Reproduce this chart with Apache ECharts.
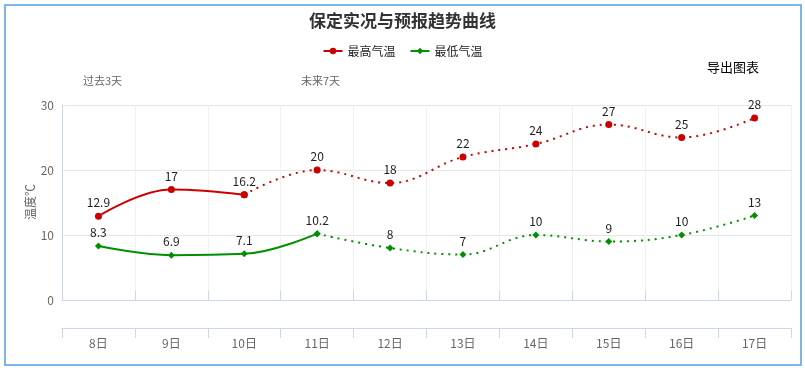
<!DOCTYPE html>
<html>
<head>
<meta charset="utf-8">
<script src="https://cdn.jsdelivr.net/npm/echarts@6/dist/echarts.min.js"></script>
<style>
html,body{margin:0;padding:0;background:#fff;}
#chart{width:805px;height:368px;}
</style>
</head>
<body>
<div id="chart"></div>
<script>
var days = ['8日','9日','10日','11日','12日','13日','14日','15日','16日','17日'];
var highObs = [12.9, 17, 16.2];
var highFc = [20, 18, 22, 24, 27, 25, 28];
var lowObs = [8.3, 6.9, 7.1, 10.2];
var lowFc = [8, 7, 10, 9, 10, 13];
var yTicks = [0, 10, 20, 30];

var FONT = '"Noto Sans CJK SC", "Noto Sans", sans-serif';
var RED = '#cc0000', GREEN = '#009000';

function pad(n){ var a=[]; for(var i=0;i<n;i++) a.push('-'); return a; }
var highObsData = highObs.concat(pad(days.length - highObs.length));
var lowObsData = lowObs.concat(pad(days.length - lowObs.length));
var highFcData = pad(highObs.length - 1)
  .concat([{value: highObs[highObs.length-1], label:{show:false}}])
  .concat(highFc);
var lowFcData = pad(lowObs.length - 1)
  .concat([{value: lowObs[lowObs.length-1], label:{show:false}}])
  .concat(lowFc);

var labelCfg = {show:true, position:'top', distance:4, color:'#222', fontSize:12, fontFamily:FONT};

var chart = echarts.init(document.getElementById('chart'), null, {renderer:'canvas'});
chart.setOption({
  backgroundColor:'#fff',
  animation:false,
  title:{text:'保定实况与预报趋势曲线', left:'center', top:7,
    textStyle:{fontSize:17, fontWeight:'bold', color:'#333', fontFamily:FONT}},
  legend:{top:40, left:'center', itemWidth:19, itemHeight:8, itemGap:14,
    textStyle:{fontSize:12, color:'#222', fontFamily:FONT},
    data:['最高气温','最低气温']},
  grid:{left:62, right:14, top:105, bottom:68},
  xAxis:[
    {type:'category', position:'top', data:days, boundaryGap:true,
     axisLine:{show:true, lineStyle:{color:'#ccd6eb'}},
     axisTick:{show:true, length:9, lineStyle:{color:'#ccd6eb'}},
     axisLabel:{show:false},
     splitLine:{show:true, lineStyle:{color:'#f0f0f0'}}},
    {type:'category', position:'bottom', offset:28, data:days, boundaryGap:true,
     axisLine:{show:true, lineStyle:{color:'#ccd6eb'}},
     axisTick:{show:true, length:10, lineStyle:{color:'#ccd6eb'}},
     axisLabel:{color:'#666', fontSize:12, margin:9, fontFamily:FONT},
     splitLine:{show:false}}
  ],
  yAxis:{type:'value', min:yTicks[0], max:yTicks[yTicks.length-1], interval:10,
    axisLine:{show:true, lineStyle:{color:'#ccd6eb'}},
    axisTick:{show:false},
    axisLabel:{color:'#666', fontSize:12, margin:8, fontFamily:FONT},
    splitLine:{show:true, lineStyle:{color:'#e6e6e6'}}},
  series:[
    {name:'最高气温', type:'line', xAxisIndex:0, data:highObsData, smooth:0.4,
     symbol:'circle', symbolSize:7, itemStyle:{color:RED},
     lineStyle:{color:RED, width:2}, label:labelCfg},
    {name:'最高气温', type:'line', xAxisIndex:0, data:highFcData, smooth:0.4,
     symbol:'circle', symbolSize:7, itemStyle:{color:RED},
     lineStyle:{color:RED, width:2, type:[2,5]}, label:labelCfg},
    {name:'最低气温', type:'line', xAxisIndex:0, data:lowObsData, smooth:0.4,
     symbol:'diamond', symbolSize:7, itemStyle:{color:GREEN},
     lineStyle:{color:GREEN, width:2}, label:labelCfg},
    {name:'最低气温', type:'line', xAxisIndex:0, data:lowFcData, smooth:0.4,
     symbol:'diamond', symbolSize:7, itemStyle:{color:GREEN},
     lineStyle:{color:GREEN, width:2, type:[2,5]}, label:labelCfg}
  ],
  graphic:[
    {type:'rect', shape:{x:5, y:5, width:796, height:360}, silent:true,
     style:{fill:'none', stroke:'#7cb5ec', lineWidth:2}},
    {type:'text', x:30, y:202, rotation:Math.PI/2,
     style:{text:'温度℃', fontSize:12, fill:'#666', fontFamily:FONT, align:'center', verticalAlign:'middle'}},
    {type:'text', left:707, top:61, style:{text:'导出图表', fontSize:13, fill:'#000', fontFamily:FONT}},
    {type:'text', left:83, top:75, style:{text:'过去3天', fontSize:11, fill:'#666', fontFamily:FONT}},
    {type:'text', left:301, top:75, style:{text:'未来7天', fontSize:11, fill:'#666', fontFamily:FONT}}
  ]
});
</script>
</body>
</html>
